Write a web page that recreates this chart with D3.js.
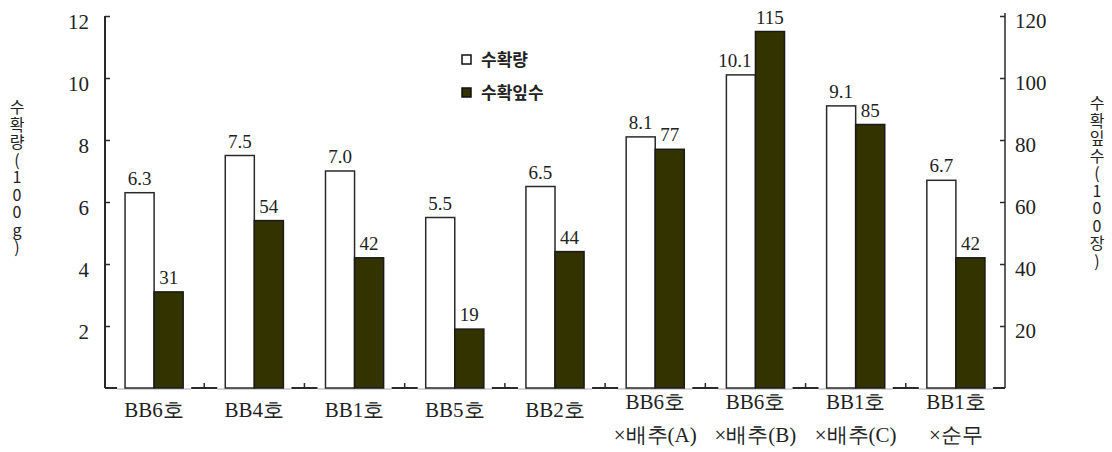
<!DOCTYPE html>
<html>
<head>
<meta charset="utf-8">
<script src="https://cdn.jsdelivr.net/npm/d3@7"></script>
<style>
  html, body { margin: 0; padding: 0; background: #fff; }
  svg { display: block; }
</style>
</head>
<body>
<svg id="chart" width="1112" height="452"></svg>
<script>
// Cultivar / cross names (first line, second line)
const categoryLine1 = ["BB6호", "BB4호", "BB1호", "BB5호", "BB2호", "BB6호", "BB6호", "BB1호", "BB1호"];
const categoryLine2 = ["", "", "", "", "", "×배추(A)", "×배추(B)", "×배추(C)", "×순무"];
// Yield (100 g) — left axis
const yieldValues = [6.3, 7.5, 7.0, 5.5, 6.5, 8.1, 10.1, 9.1, 6.7];
// Harvested leaf count (100 sheets) — right axis
const leafCounts = [31, 54, 42, 19, 44, 77, 115, 85, 42];
// Axis ticks
const leftTicks = [2, 4, 6, 8, 10, 12];
const rightTicks = [20, 40, 60, 80, 100, 120];
// Legend and axis titles
const legendLabels = ["수확량", "수확잎수"];
const leftTitle = "수확량(100g)";
const rightTitle = "수확잎수(100장)";

const SERIF = "'Liberation Serif', 'DejaVu Serif', serif";
const SANS = "'Noto Sans CJK KR', sans-serif";

const svg = d3.select("#chart");
const axisLeftX = 105, axisRightX = 1005, baseY = 388, topY = 16;
const darkFill = "#333300", lineCol = "#2a2a2a", textCol = "#222";

const x = d3.scaleBand()
  .domain(d3.range(categoryLine1.length))
  .range([axisLeftX, axisRightX])
  .paddingInner(0.42)
  .paddingOuter(0.2);
const yL = d3.scaleLinear().domain([0, 12]).range([baseY, topY]);
const yR = d3.scaleLinear().domain([0, 120]).range([baseY, topY]);
const half = x.bandwidth() / 2;

// Baseline: dark between groups, light grey under each group
svg.append("line").attr("x1", axisLeftX).attr("x2", axisRightX)
  .attr("y1", baseY).attr("y2", baseY).attr("stroke", lineCol).attr("stroke-width", 2);
svg.append("g").selectAll("line").data(x.domain()).join("line")
  .attr("x1", d => x(d) - 8).attr("x2", d => x(d) + x.bandwidth() + 8)
  .attr("y1", baseY + 0.5).attr("y2", baseY + 0.5)
  .attr("stroke", "#fff").attr("stroke-width", 3);
svg.append("g").selectAll("line").data(x.domain()).join("line")
  .attr("x1", d => x(d) - 8).attr("x2", d => x(d) + x.bandwidth() + 8)
  .attr("y1", baseY + 1).attr("y2", baseY + 1)
  .attr("stroke", "#aaa").attr("stroke-width", 1);
// small ticks between groups
svg.append("g").selectAll("line").data(d3.range(1, categoryLine1.length)).join("line")
  .attr("x1", d => x(d) - x.step() * 0.21).attr("x2", d => x(d) - x.step() * 0.21)
  .attr("y1", baseY).attr("y2", baseY - 5)
  .attr("stroke", lineCol).attr("stroke-width", 1.5);

// Bars
const bars = svg.append("g");
bars.selectAll("rect.yield").data(yieldValues).join("rect")
  .attr("class", "yield")
  .attr("x", (d, i) => x(i)).attr("width", half)
  .attr("y", d => yL(d)).attr("height", d => baseY - yL(d))
  .attr("fill", "#fff").attr("stroke", lineCol).attr("stroke-width", 1.5);
bars.selectAll("rect.leaf").data(leafCounts).join("rect")
  .attr("class", "leaf")
  .attr("x", (d, i) => x(i) + half).attr("width", half)
  .attr("y", d => yR(d)).attr("height", d => baseY - yR(d))
  .attr("fill", darkFill).attr("stroke", "#1a1a1a").attr("stroke-width", 1.5);

// Value labels
const labels = svg.append("g").style("font-family", SERIF).style("font-size", "19px")
  .attr("fill", textCol).attr("text-anchor", "middle");
labels.selectAll("text.yv").data(yieldValues).join("text")
  .attr("class", "yv")
  .attr("x", (d, i) => x(i) + half / 2 - (d >= 10 ? 6 : 0)).attr("y", d => yL(d) - 8)
  .text(d => d.toFixed(1));
labels.selectAll("text.lv").data(leafCounts).join("text")
  .attr("class", "lv")
  .attr("x", (d, i) => x(i) + half * 1.5).attr("y", d => yR(d) - 8)
  .text(d => d);

// Left axis
const gL = svg.append("g").attr("transform", `translate(${axisLeftX},0)`)
  .call(d3.axisLeft(yL).tickValues(leftTicks).tickSize(-5).tickSizeOuter(0).tickPadding(16));
gL.select(".domain").attr("d", `M0,${topY}V${baseY}`).attr("stroke", lineCol).attr("stroke-width", 2);
gL.selectAll(".tick line").attr("stroke", lineCol).attr("stroke-width", 1.5);
gL.selectAll(".tick text").style("font-family", SERIF).style("font-size", "21px")
  .attr("dy", "0.6em").attr("fill", textCol);

// Right axis
const gR = svg.append("g").attr("transform", `translate(${axisRightX},0)`)
  .call(d3.axisRight(yR).tickValues(rightTicks).tickSize(-5).tickSizeOuter(0).tickPadding(10));
gR.select(".domain").attr("d", `M0,${topY - 3}V${baseY}`).attr("stroke", lineCol).attr("stroke-width", 1.5);
gR.selectAll(".tick line").attr("stroke", lineCol).attr("stroke-width", 1.5);
gR.selectAll(".tick text").style("font-family", SERIF).style("font-size", "21px")
  .attr("dy", "0.55em").attr("fill", textCol);

// Category labels
const cats = svg.append("g").style("font-family", SERIF).style("font-size", "21px")
  .attr("fill", textCol).attr("text-anchor", "middle");
categoryLine1.forEach((c, i) => {
  const cx = x(i) + x.bandwidth() / 2;
  const two = categoryLine2[i] !== "";
  cats.append("text").attr("x", cx).attr("y", two ? 409 : 417).text(c);
  if (two) cats.append("text").attr("x", cx).attr("y", 442).text(categoryLine2[i]);
});

// Legend
const legend = svg.append("g").attr("transform", "translate(462,55)");
legendLabels.forEach((t, i) => {
  const g = legend.append("g").attr("transform", `translate(0,${i * 33})`);
  g.append("rect").attr("width", 9).attr("height", 9)
    .attr("fill", i === 0 ? "#fff" : darkFill).attr("stroke", "#111").attr("stroke-width", 1.5);
  g.append("text").attr("x", 19).attr("y", 11)
    .style("font-family", SANS).style("font-size", "17px").style("font-weight", 700)
    .attr("fill", textCol).text(t);
});

// Vertical axis titles, upright characters stacked top to bottom
function verticalTitle(label, cx, startY) {
  svg.append("text")
    .attr("x", cx).attr("y", startY)
    .style("writing-mode", "vertical-rl")
    .style("text-orientation", "upright")
    .style("font-family", SANS)
    .style("font-size", "16px")
    .style("letter-spacing", "1.5px")
    .attr("fill", textCol)
    .text(label);
}
verticalTitle(leftTitle, 17, 99);
verticalTitle(rightTitle, 1097, 95);
</script>
</body>
</html>
